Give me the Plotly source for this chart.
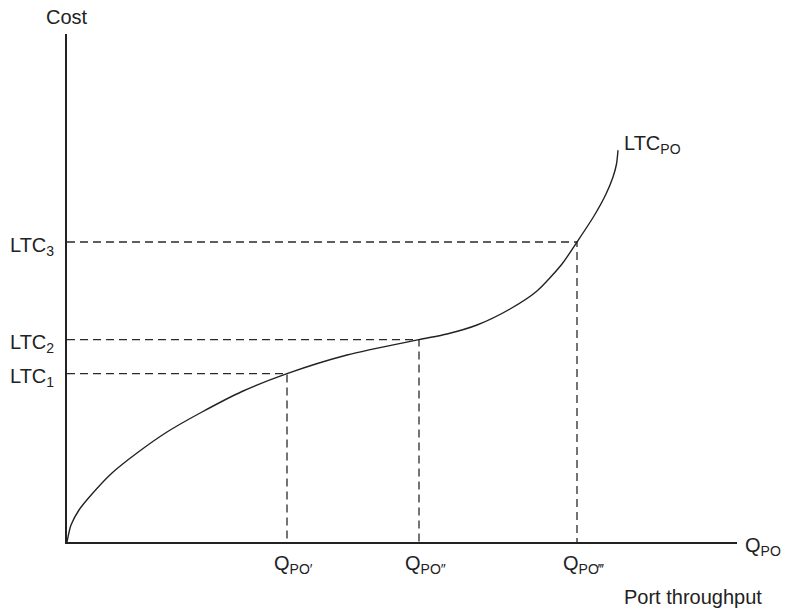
import plotly.graph_objects as go

# Data (arbitrary units, origin at axes crossing)
curve_q = [0, 4, 12, 25, 45, 70, 100, 135, 175, 220, 280, 352,
           380, 410, 443, 470, 495, 510, 527, 539, 546, 549.5, 551]
curve_ltc = [0, 17, 32, 48, 69, 89, 110, 130, 150.5, 168.4, 187, 202.4,
             208, 217, 233, 251, 278, 300, 326, 348, 365, 378, 391.7]

q_points = [220, 352, 510]
ltc_points = [168.4, 202.4, 300]
q_labels = ["Q<sub>PO′</sub>", "Q<sub>PO″</sub>", "Q<sub>PO‴</sub>"]
ltc_labels = ["LTC<sub>1</sub>", "LTC<sub>2</sub>", "LTC<sub>3</sub>"]
x_max = 670
y_max = 508

INK = "#222222"
FONT = dict(family="Liberation Sans, Arial, sans-serif", size=20, color=INK)

fig = go.Figure()

# dashed guide lines
for q, c in zip(q_points, ltc_points):
    fig.add_trace(go.Scatter(x=[0, q, q], y=[c, c, 0], mode="lines",
                             line=dict(color="#2a2a2a", width=1.3, dash="8px,5px"),
                             hoverinfo="skip", showlegend=False))

# cost curve
fig.add_trace(go.Scatter(x=curve_q, y=curve_ltc, mode="lines",
                         line=dict(color=INK, width=1.4, shape="spline", smoothing=0.7),
                         hoverinfo="skip", showlegend=False))

annotations = []
for q, lab in zip(q_points, q_labels):
    annotations.append(dict(x=q, y=0, xref="x", yref="y", text=lab, showarrow=False,
                            xanchor="center", yanchor="top", xshift=6, yshift=-8, font=FONT))
for c, lab in zip(ltc_points, ltc_labels):
    annotations.append(dict(x=0, y=c, xref="x", yref="y", text=lab, showarrow=False,
                            xanchor="right", yanchor="middle", xshift=-11, yshift=-4, font=FONT))
annotations += [
    dict(x=0, y=y_max, xref="x", yref="y", text="Cost", showarrow=False,
         xanchor="center", yanchor="bottom", yshift=4, font=FONT),
    dict(x=x_max, y=0, xref="x", yref="y", text="Q<sub>PO</sub>", showarrow=False,
         xanchor="left", yanchor="middle", xshift=6, yshift=-4, font=FONT),
    dict(x=1.04, y=0, xref="paper", yref="y", text="Port throughput", showarrow=False,
         xanchor="right", yanchor="middle", yshift=-55, font=FONT),
    dict(x=curve_q[-1], y=curve_ltc[-1], xref="x", yref="y", text="LTC<sub>PO</sub>",
         showarrow=False, xanchor="left", yanchor="middle", xshift=4, yshift=6, font=FONT),
]

fig.update_layout(
    width=786, height=613,
    margin=dict(l=67, r=49, t=34, b=71),
    paper_bgcolor="white", plot_bgcolor="white",
    annotations=annotations,
    xaxis=dict(range=[0, x_max], showgrid=False, zeroline=False, showticklabels=False,
               ticks="", showline=True, linecolor=INK, linewidth=1.5),
    yaxis=dict(range=[0, y_max], showgrid=False, zeroline=False, showticklabels=False,
               ticks="", showline=True, linecolor=INK, linewidth=1.5),
)

fig.write_html("out.html", config={"displayModeBar": False},
               post_script="document.body.style.margin='0';")
